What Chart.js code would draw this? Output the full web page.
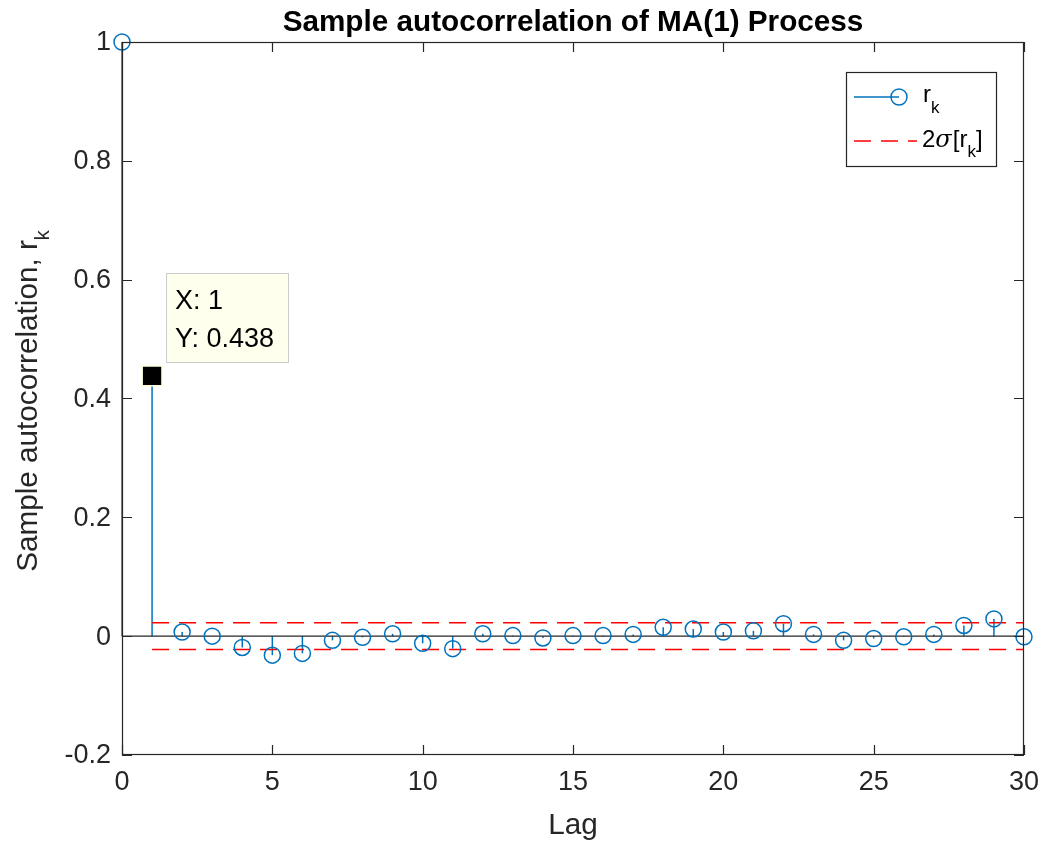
<!DOCTYPE html>
<html>
<head>
<meta charset="utf-8">
<script src="https://cdn.jsdelivr.net/npm/chart.js@4.4.0/dist/chart.umd.min.js"></script>
<style>
  html, body { margin: 0; padding: 0; background: #fff; }
</style>
</head>
<body>
<canvas id="acfChart" width="1043" height="843"></canvas>
<script>
// values
const lags = [0, 1, 2, 3, 4, 5, 6, 7, 8, 9, 10, 11, 12, 13, 14, 15, 16, 17, 18, 19, 20, 21, 22, 23, 24, 25, 26, 27, 28, 29, 30];
const acf = [1, 0.438, 0.007, 0.000, -0.019, -0.032, -0.029, -0.007, -0.002, 0.004, -0.012, -0.021, 0.004, 0.001, -0.003, 0.001, 0.001, 0.003, 0.015, 0.012, 0.007, 0.009, 0.021, 0.003, -0.007, -0.004, -0.001, 0.003, 0.018, 0.029, -0.001];
const bandLags = [1, 30];
const bandUpper = [0.0226, 0.0226];
const bandLower = [-0.0226, -0.0226];
const xTicks = [0, 5, 10, 15, 20, 25, 30];
const yTicks = [-0.2, 0, 0.2, 0.4, 0.6, 0.8, 1];
const yTickLabels = ['-0.2', '0', '0.2', '0.4', '0.6', '0.8', '1'];
const tipLag = 1;

const FONT = '"Liberation Sans", Arial, sans-serif';
const INK = '#262626';
const BLUE = '#0072BD';
const RED = '#FF0000';
const DASH = [17, 10];

const stemPlugin = {
  id: 'stems',
  beforeDatasetsDraw(chart) {
    const { ctx, scales: { x, y } } = chart;
    const y0 = y.getPixelForValue(0);
    ctx.save();
    ctx.strokeStyle = BLUE;
    ctx.lineWidth = 1.5;
    lags.forEach((l, i) => {
      const px = x.getPixelForValue(l);
      ctx.beginPath();
      ctx.moveTo(px, y0);
      ctx.lineTo(px, y.getPixelForValue(acf[i]));
      ctx.stroke();
    });
    // stem baseline
    ctx.strokeStyle = INK;
    ctx.lineWidth = 1.3;
    ctx.beginPath();
    ctx.moveTo(x.getPixelForValue(xTicks[0]), y0);
    ctx.lineTo(x.getPixelForValue(xTicks[xTicks.length - 1]), y0);
    ctx.stroke();
    ctx.restore();
  }
};

// text with a subscript, alphabetic baseline; returns width used
function drawSub(ctx, base, sub, x, y, size, subSize, drop) {
  ctx.font = size + 'px ' + FONT;
  ctx.fillText(base, x, y);
  const w = ctx.measureText(base).width;
  ctx.font = subSize + 'px ' + FONT;
  ctx.fillText(sub, x + w, y + drop);
  return w + ctx.measureText(sub).width;
}

const decoPlugin = {
  id: 'deco',
  afterDraw(chart) {
    const { ctx, chartArea: a, scales: { x, y } } = chart;
    ctx.save();
    // frame with inward ticks
    ctx.strokeStyle = INK;
    ctx.lineWidth = 1.2;
    ctx.strokeRect(a.left + 0.5, a.top + 0.5, a.right - a.left - 1, a.bottom - a.top - 1);
    const tl = 10;
    ctx.beginPath();
    xTicks.forEach(v => {
      const px = Math.round(x.getPixelForValue(v)) + 0.5;
      ctx.moveTo(px, a.bottom); ctx.lineTo(px, a.bottom - tl);
      ctx.moveTo(px, a.top); ctx.lineTo(px, a.top + tl);
    });
    yTicks.forEach(v => {
      const py = Math.round(y.getPixelForValue(v)) + 0.5;
      ctx.moveTo(a.left, py); ctx.lineTo(a.left + tl, py);
      ctx.moveTo(a.right, py); ctx.lineTo(a.right - tl, py);
    });
    ctx.stroke();

    // tick labels
    ctx.fillStyle = INK;
    ctx.font = '27px ' + FONT;
    ctx.textBaseline = 'middle';
    ctx.textAlign = 'center';
    xTicks.forEach(v => ctx.fillText(String(v), x.getPixelForValue(v), 783));
    ctx.textAlign = 'right';
    yTicks.forEach((v, i) => ctx.fillText(yTickLabels[i], a.left - 11, y.getPixelForValue(v) + 1));

    // title and axis labels
    ctx.fillStyle = '#000';
    ctx.textAlign = 'center';
    ctx.textBaseline = 'alphabetic';
    ctx.font = 'bold 29.7px ' + FONT;
    ctx.fillText('Sample autocorrelation of MA(1) Process', (a.left + a.right) / 2, 31);
    ctx.fillStyle = INK;
    ctx.font = '29.7px ' + FONT;
    ctx.fillText('Lag', (a.left + a.right) / 2, 834);

    ctx.save();
    ctx.translate(37, 401);
    ctx.rotate(-Math.PI / 2);
    ctx.textAlign = 'left';
    const label = 'Sample autocorrelation, r';
    ctx.font = '20px ' + FONT;
    const kw = ctx.measureText('k').width;
    ctx.font = '29.7px ' + FONT;
    const tw = ctx.measureText(label).width + kw;
    drawSub(ctx, label, 'k', -tw / 2, 0, 29.7, 20, 12);
    ctx.restore();

    // legend
    const lx = a.right - 178, ly = a.top + 30, lw = 150, lh = 94;
    ctx.fillStyle = '#fff';
    ctx.fillRect(lx, ly, lw, lh);
    ctx.strokeStyle = INK;
    ctx.lineWidth = 1.2;
    ctx.strokeRect(lx + 0.5, ly + 0.5, lw, lh);
    const r1 = ly + 25, r2 = ly + 69;
    ctx.strokeStyle = BLUE;
    ctx.lineWidth = 1.5;
    ctx.beginPath(); ctx.moveTo(lx + 8, r1); ctx.lineTo(lx + 53, r1); ctx.stroke();
    ctx.beginPath(); ctx.arc(lx + 53, r1, 8, 0, Math.PI * 2); ctx.stroke();
    ctx.strokeStyle = RED;
    ctx.setLineDash(DASH);
    ctx.beginPath(); ctx.moveTo(lx + 8, r2); ctx.lineTo(lx + 71, r2); ctx.stroke();
    ctx.setLineDash([]);
    ctx.fillStyle = '#000';
    ctx.textAlign = 'left';
    ctx.textBaseline = 'alphabetic';
    drawSub(ctx, 'r', 'k', lx + 77, r1 + 5, 24, 17, 11);
    let cx = lx + 76;
    const b2 = r2 + 6;
    ctx.font = '24px ' + FONT;
    ctx.fillText('2', cx, b2); cx += ctx.measureText('2').width;
    ctx.font = 'italic 24px "DejaVu Serif", serif';
    ctx.fillText('σ', cx, b2); cx += ctx.measureText('σ').width + 1;
    ctx.font = '24px ' + FONT;
    ctx.fillText('[', cx, b2); cx += ctx.measureText('[').width;
    cx += drawSub(ctx, 'r', 'k', cx, b2, 24, 17, 10);
    ctx.font = '24px ' + FONT;
    ctx.fillText(']', cx, b2);

    // data tip
    const tv = acf[lags.indexOf(tipLag)];
    const px = x.getPixelForValue(tipLag), py = y.getPixelForValue(tv);
    const bx = Math.round(px + 14), by = Math.round(py - 103);
    ctx.fillStyle = '#FFFFEE';
    ctx.fillRect(bx, by, 122, 89);
    ctx.strokeStyle = '#CCCCCC';
    ctx.lineWidth = 1;
    ctx.strokeRect(bx + 0.5, by + 0.5, 122, 89);
    ctx.fillStyle = '#000';
    ctx.font = '27px ' + FONT;
    ctx.textBaseline = 'middle';
    ctx.fillText('X: ' + tipLag, bx + 9, by + 29);
    ctx.fillText('Y: ' + tv.toFixed(3), bx + 9, by + 67);
    ctx.restore();
  }
};

new Chart(document.getElementById('acfChart').getContext('2d'), {
  type: 'scatter',
  data: {
    datasets: [
      {
        label: 'band+',
        type: 'line',
        data: bandLags.map((l, i) => ({ x: l, y: bandUpper[i] })),
        borderColor: RED, borderWidth: 1.5, borderDash: DASH,
        pointRadius: 0, fill: false, order: 3
      },
      {
        label: 'band-',
        type: 'line',
        data: bandLags.map((l, i) => ({ x: l, y: bandLower[i] })),
        borderColor: RED, borderWidth: 1.5, borderDash: DASH,
        pointRadius: 0, fill: false, order: 3
      },
      {
        label: 'rk',
        data: lags.map((l, i) => ({ x: l, y: acf[i] })),
        pointStyle: 'circle', pointRadius: 8,
        pointBorderColor: BLUE, pointBackgroundColor: 'rgba(0,0,0,0)', pointBorderWidth: 1.5,
        clip: false, order: 2
      },
      {
        label: 'tip',
        data: [{ x: tipLag, y: acf[lags.indexOf(tipLag)] }],
        pointStyle: 'rect', pointRadius: 14,
        pointBackgroundColor: '#000', pointBorderColor: '#FFFFE0', pointBorderWidth: 1.5,
        order: 0
      }
    ]
  },
  options: {
    responsive: false,
    animation: false,
    layout: { padding: { left: 0, right: 19, top: 42, bottom: 0 } },
    plugins: { legend: { display: false }, tooltip: { enabled: false }, title: { display: false } },
    scales: {
      x: {
        type: 'linear', min: 0, max: 30,
        grid: { display: false, drawTicks: false },
        border: { display: false },
        ticks: { display: false },
        afterFit: s => { s.height = 88; }
      },
      y: {
        type: 'linear', min: -0.2, max: 1,
        grid: { display: false, drawTicks: false },
        border: { display: false },
        ticks: { display: false },
        afterFit: s => { s.width = 122; }
      }
    }
  },
  plugins: [stemPlugin, decoPlugin]
});
</script>
</body>
</html>
